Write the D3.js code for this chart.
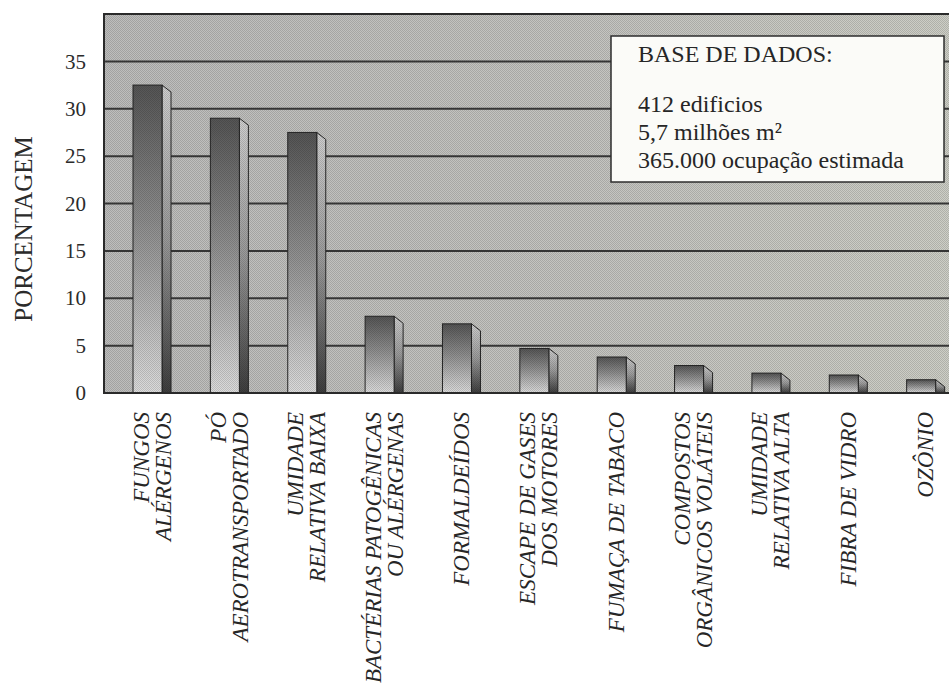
<!DOCTYPE html>
<html>
<head>
<meta charset="utf-8">
<script src="https://cdn.jsdelivr.net/npm/d3@7"></script>
<style>
  body { margin: 0; background: #fff; }
  svg { display: block; }
</style>
</head>
<body>
<div id="chart"></div>
<script>
// Chart data
const categories = ['FUNGOS ALÉRGENOS', 'PÓ AEROTRANSPORTADO', 'UMIDADE RELATIVA BAIXA',
  'BACTÉRIAS PATOGÊNICAS OU ALÉRGENAS', 'FORMALDEÍDOS', 'ESCAPE DE GASES DOS MOTORES',
  'FUMAÇA DE TABACO', 'COMPOSTOS ORGÂNICOS VOLÁTEIS', 'UMIDADE RELATIVA ALTA',
  'FIBRA DE VIDRO', 'OZÔNIO'];
const labelLines = [
  ['FUNGOS', 'ALÉRGENOS'],
  ['PÓ', 'AEROTRANSPORTADO'],
  ['UMIDADE', 'RELATIVA BAIXA'],
  ['BACTÉRIAS PATOGÊNICAS', 'OU ALÉRGENAS'],
  ['FORMALDEÍDOS'],
  ['ESCAPE DE GASES', 'DOS MOTORES'],
  ['FUMAÇA DE TABACO'],
  ['COMPOSTOS', 'ORGÂNICOS VOLÁTEIS'],
  ['UMIDADE', 'RELATIVA ALTA'],
  ['FIBRA DE VIDRO'],
  ['OZÔNIO']
];
const values = [32.5, 29, 27.5, 8.1, 7.3, 4.7, 3.8, 2.9, 2.1, 1.9, 1.4];
const yTicks = [0, 5, 10, 15, 20, 25, 30, 35];
const gridValues = [5, 10, 15, 20, 25, 30, 35];
const yTitle = 'PORCENTAGEM';
const legendTitle = 'BASE DE DADOS:';
const legendLines = ['412 edificios', '5,7 milhões m²', '365.000 ocupação estimada'];

// Layout
const svgWidth = 949, svgHeight = 698;
const plot = { left: 104, top: 14, right: 955, bottom: 393 };
const depth = 9;
const serif = '"Liberation Serif", "Times New Roman", serif';

const svg = d3.select('#chart').append('svg')
  .attr('width', svgWidth)
  .attr('height', svgHeight);

const defs = svg.append('defs');

// Background gradient + halftone pattern
const bgGrad = defs.append('linearGradient').attr('id', 'bgGrad')
  .attr('x1', 0).attr('x2', 1).attr('y1', 0).attr('y2', 0);
bgGrad.append('stop').attr('offset', '0%').attr('stop-color', '#bdbdbc');
bgGrad.append('stop').attr('offset', '55%').attr('stop-color', '#c4c4c0');
bgGrad.append('stop').attr('offset', '100%').attr('stop-color', '#cdcec6');

const dots = defs.append('pattern').attr('id', 'dots')
  .attr('width', 2).attr('height', 2).attr('patternUnits', 'userSpaceOnUse');
dots.append('rect').attr('width', 1).attr('height', 1).attr('fill', '#000').attr('opacity', 0.14);
dots.append('rect').attr('x', 1).attr('y', 1).attr('width', 1).attr('height', 1).attr('fill', '#000').attr('opacity', 0.14);

const frontGrad = defs.append('linearGradient').attr('id', 'frontGrad')
  .attr('x1', 0).attr('x2', 0).attr('y1', 0).attr('y2', 1);
frontGrad.append('stop').attr('offset', '0%').attr('stop-color', '#555555');
frontGrad.append('stop').attr('offset', '45%').attr('stop-color', '#8e8e8e');
frontGrad.append('stop').attr('offset', '100%').attr('stop-color', '#dcdcdc');

const sideGrad = defs.append('linearGradient').attr('id', 'sideGrad')
  .attr('x1', 0).attr('x2', 0).attr('y1', 0).attr('y2', 1);
sideGrad.append('stop').attr('offset', '0%').attr('stop-color', '#cfcfcf');
sideGrad.append('stop').attr('offset', '50%').attr('stop-color', '#9a9a9a');
sideGrad.append('stop').attr('offset', '100%').attr('stop-color', '#3e3e3e');

// Scales
const xScale = d3.scaleBand()
  .domain(categories)
  .range([plot.left, plot.right])
  .padding(0);

const yScale = d3.scaleLinear()
  .domain([0, 40])
  .range([plot.bottom, plot.top]);

const barOffset = xScale.bandwidth() * 0.375;
const barWidth = xScale.bandwidth() * 0.375;

// Plot background
svg.append('rect')
  .attr('x', plot.left).attr('y', plot.top)
  .attr('width', plot.right - plot.left).attr('height', plot.bottom - plot.top)
  .attr('fill', 'url(#bgGrad)');
svg.append('rect')
  .attr('x', plot.left).attr('y', plot.top)
  .attr('width', plot.right - plot.left).attr('height', plot.bottom - plot.top)
  .attr('fill', 'url(#dots)');

// Gridlines
svg.append('g').selectAll('line')
  .data(gridValues)
  .enter().append('line')
  .attr('x1', plot.left).attr('x2', plot.right)
  .attr('y1', d => yScale(d)).attr('y2', d => yScale(d))
  .attr('stroke', '#353535')
  .attr('stroke-width', 2);

// Bars
const bars = svg.append('g').selectAll('g')
  .data(categories.map((c, i) => ({ key: c, value: values[i] })))
  .enter().append('g');

bars.append('path')
  .attr('d', d => {
    const x0 = xScale(d.key) + barOffset + barWidth;
    const top = yScale(d.value);
    return `M${x0},${top} L${x0 + depth},${top + 7} L${x0 + depth},${plot.bottom} L${x0},${plot.bottom} Z`;
  })
  .attr('fill', 'url(#sideGrad)')
  .attr('stroke', '#262626')
  .attr('stroke-width', 1);

bars.append('rect')
  .attr('x', d => xScale(d.key) + barOffset)
  .attr('y', d => yScale(d.value))
  .attr('width', barWidth)
  .attr('height', d => plot.bottom - yScale(d.value))
  .attr('fill', 'url(#frontGrad)')
  .attr('stroke', '#262626')
  .attr('stroke-width', 1);

// halftone over the bars
bars.append('path')
  .attr('d', d => {
    const x0 = xScale(d.key) + barOffset;
    const top = yScale(d.value);
    return `M${x0},${top} L${x0 + barWidth},${top} L${x0 + barWidth + depth},${top + 7} L${x0 + barWidth + depth},${plot.bottom} L${x0},${plot.bottom} Z`;
  })
  .attr('fill', 'url(#dots)')
  .attr('stroke', 'none');

// Plot border
svg.append('rect')
  .attr('x', plot.left).attr('y', plot.top)
  .attr('width', plot.right - plot.left).attr('height', plot.bottom - plot.top)
  .attr('fill', 'none')
  .attr('stroke', '#2a2a2a')
  .attr('stroke-width', 2);

// Y axis
const yAxis = d3.axisLeft(yScale).tickValues(yTicks).tickSize(0).tickPadding(18);
const yAxisG = svg.append('g')
  .attr('transform', `translate(${plot.left},0)`)
  .call(yAxis);
yAxisG.select('.domain').remove();
yAxisG.selectAll('text')
  .style('font-family', serif)
  .style('font-size', '21px')
  .style('fill', '#2b2b2b');

// Y title
svg.append('text')
  .attr('transform', `translate(32, 229) rotate(-90)`)
  .attr('text-anchor', 'middle')
  .style('font-family', serif)
  .style('font-size', '25px')
  .style('fill', '#2b2b2b')
  .text(yTitle);

// Category labels
const lineGap = 22;
const labels = svg.append('g').selectAll('text')
  .data(categories.map((c, i) => ({ key: c, lines: labelLines[i] })))
  .enter().append('text')
  .attr('transform', d => `translate(${xScale(d.key) + barOffset + (barWidth + depth) / 2}, 412) rotate(-90)`)
  .attr('text-anchor', 'end')
  .style('font-family', serif)
  .style('font-style', 'italic')
  .style('font-size', '23px')
  .style('fill', '#262626');

labels.selectAll('tspan')
  .data(d => d.lines.map((l, i) => ({ text: l, i, n: d.lines.length })))
  .enter().append('tspan')
  .attr('x', 0)
  .attr('y', d => (d.i - (d.n - 1) / 2) * lineGap + 7.5)
  .text(d => d.text);

// Legend box
const legend = svg.append('g').attr('transform', 'translate(611,36)');
legend.append('rect')
  .attr('width', 333).attr('height', 146)
  .attr('fill', '#fbfbf8')
  .attr('stroke', '#2e2e2e')
  .attr('stroke-width', 1.5);
legend.append('text')
  .attr('x', 27).attr('y', 26)
  .style('font-family', serif)
  .style('font-size', '24px')
  .style('fill', '#262626')
  .text(legendTitle);
legend.selectAll('.legend-line')
  .data(legendLines)
  .enter().append('text')
  .attr('class', 'legend-line')
  .attr('x', 27)
  .attr('y', (d, i) => 76 + i * 28)
  .style('font-family', serif)
  .style('font-size', '24px')
  .style('fill', '#262626')
  .text(d => d);
</script>
</body>
</html>
